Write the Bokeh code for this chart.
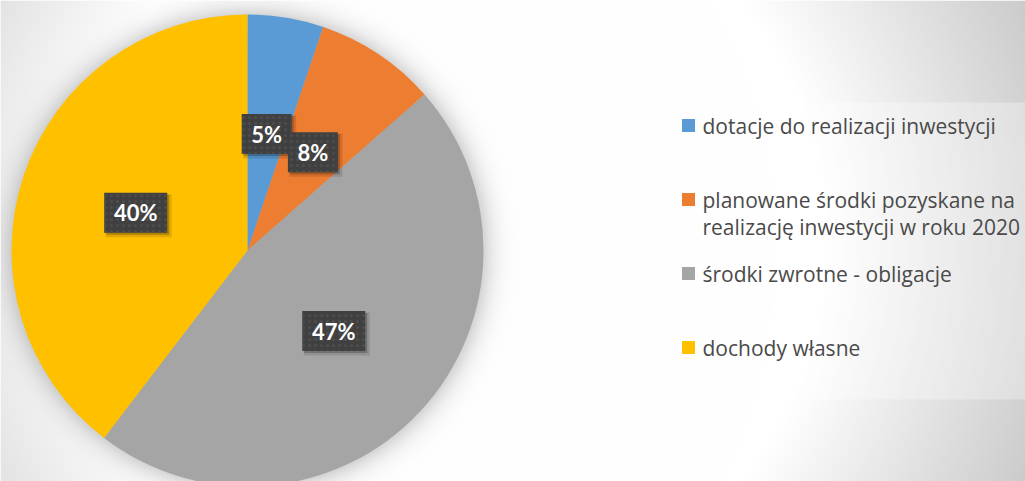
import textwrap
import numpy as np
from bokeh.plotting import figure
from bokeh.models import ColumnDataSource, Range1d
from bokeh.embed import file_html
from bokeh.resources import INLINE
from bokeh.core.properties import value

# ---- data ----
categories = [
    "dotacje do realizacji inwestycji",
    "planowane środki pozyskane na realizację inwestycji w roku 2020",
    "środki zwrotne - obligacje",
    "dochody własne",
]
shares = [5.2, 8.3, 46.9, 39.6]
colors = ["#5B9BD5", "#ED7D31", "#A5A5A5", "#FFC000"]

# ---- layout ----
W, H = 1025, 481
CX, CY, R = 247, H - 250, 236

p = figure(width=W, height=H, x_range=Range1d(0, W), y_range=Range1d(0, H),
           output_backend="svg", toolbar_location=None, min_border=0)
p.axis.visible = False
p.grid.visible = False
p.outline_line_color = None
p.background_fill_color = "white"
p.border_fill_color = "white"

# ---- background: radial gradient + soft pie shadow ----
ys, xs = np.mgrid[0:H, 0:W].astype(float)
dist = np.sqrt((xs - 450) ** 2 + (ys - 240) ** 2)
g = 255 - 0.21 * np.clip(dist - 377, 0, None)
dpie = np.sqrt((xs - CX) ** 2 + (ys - 250) ** 2) - R
a = 0.32 / (1 + np.exp(dpie / 8.0))
g = g * (1 - a)
g = np.clip(g, 0, 255).astype(np.uint8)
img = np.empty((H, W), dtype=np.uint32)
view = img.view(dtype=np.uint8).reshape((H, W, 4))
view[:, :, 0] = g
view[:, :, 1] = g
view[:, :, 2] = g
view[:, :, 3] = 255
img = img[::-1].copy()
p.image_rgba(image=[img], x=0, y=0, dw=W, dh=H)

# legend panel
p.quad(left=669, right=W, top=H - 102, bottom=H - 399,
       fill_color="white", fill_alpha=0.3, line_color=None)

# ---- pie ----
total = sum(shares)
fr = np.array(shares) / total
cum = np.concatenate([[0], np.cumsum(fr)])
start = np.pi / 2 - 2 * np.pi * cum[:-1]
end = np.pi / 2 - 2 * np.pi * cum[1:]
mid = 2 * np.pi * (cum[:-1] + cum[1:]) / 2
labels = [f"{round(v / total * 100)}%" for v in shares]

pie_src = ColumnDataSource(dict(start=start, end=end, color=colors, cat=categories))
p.wedge(x=CX, y=CY, radius=R, start_angle="start", end_angle="end",
        direction="clock", fill_color="color", line_color=None, source=pie_src)

# ---- data labels ----
lx = CX + 0.5 * R * np.sin(mid)
ly = CY + 0.5 * R * np.cos(mid)
bw = [24 + 13 * len(t) for t in labels]
lab_src = ColumnDataSource(dict(x=lx, y=ly, sx=lx + 3, sy=ly - 3, sx2=lx + 2, sy2=ly - 2,
                                w=bw, w2=[b + 3 for b in bw], t=labels))
p.rect(x="sx", y="sy", width="w2", height=43, width_units="screen", height_units="screen",
       fill_color="black", fill_alpha=0.12, line_color=None, source=lab_src)
p.rect(x="sx2", y="sy2", width="w", height=40, width_units="screen", height_units="screen",
       fill_color="black", fill_alpha=0.22, line_color=None, source=lab_src)
p.rect(x="x", y="y", width="w", height=40, width_units="screen", height_units="screen",
       fill_color="#404040", line_color=None, hatch_pattern="dot", hatch_color="#4d4d4d",
       hatch_scale=6, hatch_weight=1.5, source=lab_src)
p.text(x="x", y="y", text="t", text_align="center", text_baseline="middle",
       text_font=value("Lato"), text_font_style="bold", text_font_size="22px",
       text_color="white", source=lab_src)

# ---- legend (manual) ----
sq_x, sq_y, tys = [], [], []
lines, line_x = [], []
for i, (cat, col) in enumerate(zip(categories, colors)):
    y0 = 125 + 74 * i
    sq_x.append(688)
    sq_y.append(H - y0)
    for j, ln in enumerate(textwrap.wrap(cat, 33)):
        lines.append(ln)
        line_x.append(702)
        tys.append(H - (y0 + 27 * j))
p.rect(x=sq_x, y=sq_y, width=13, height=13, width_units="screen", height_units="screen",
       fill_color=colors, line_color=None)
p.text(x=line_x, y=tys, text=lines, text_align="left", text_baseline="middle",
       text_font=value("Open Sans"), text_font_size="21px", text_color="#4a4a4a")

html = file_html(p, INLINE)
html = html.replace("</head>", "<style>html,body{margin:0;padding:0;overflow:hidden}</style></head>", 1)
open("out.html", "w").write(html)
